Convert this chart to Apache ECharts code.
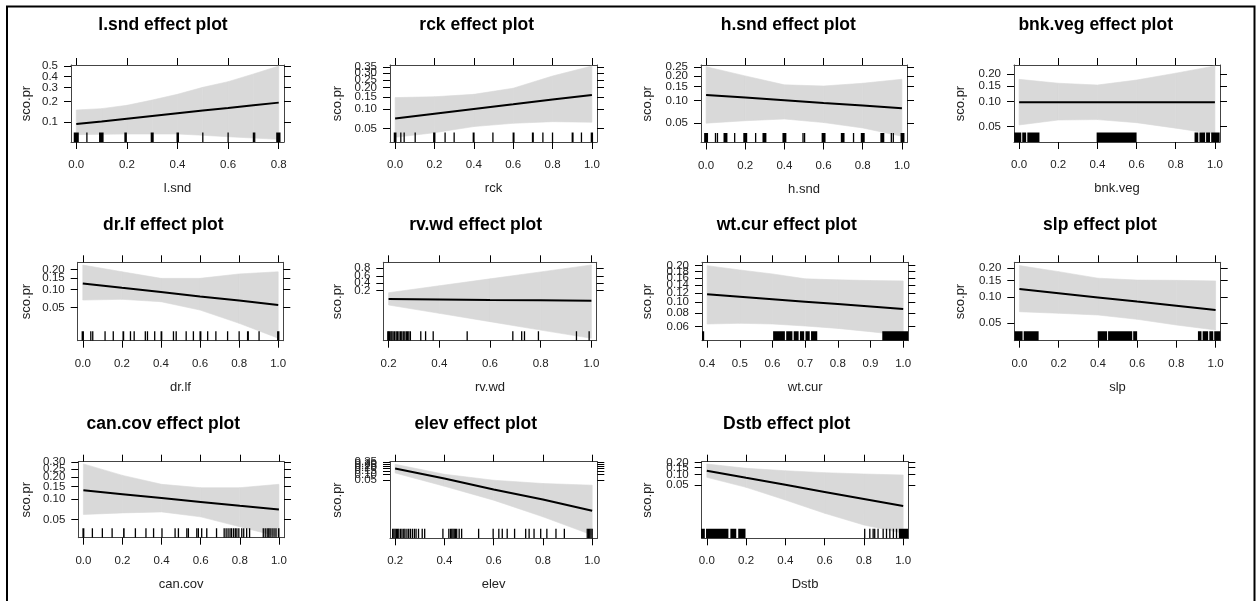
<!DOCTYPE html>
<html><head><meta charset="utf-8">
<script src="https://cdn.jsdelivr.net/npm/echarts@6/dist/echarts.min.js"></script>
<style>html,body{margin:0;padding:0;background:#fff}#c{width:1257px;height:601px}</style>
</head><body><div id="c"></div>
<script>
// ---------------- DATA (probabilities) ----------------
const xt08 = ['0.0','0.2','0.4','0.6','0.8'];
const xt01 = ['0.0','0.2','0.4','0.6','0.8','1.0'];
const xt21 = ['0.2','0.4','0.6','0.8','1.0'];
const xt41 = ['0.4','0.5','0.6','0.7','0.8','0.9','1.0'];

const x01 = [0, 0.2, 0.4, 0.6, 0.8, 1.0];
const x21 = [0.2, 0.4, 0.6, 0.8, 1.0];

// l.snd
const lsnd_x   = [0, 0.1, 0.2, 0.3, 0.4, 0.5, 0.6, 0.7, 0.8];
const lsnd_fit = [0.093, 0.102, 0.112, 0.123, 0.135, 0.148, 0.161, 0.176, 0.192];
const lsnd_lo  = [0.0633, 0.0642, 0.0649, 0.0649, 0.0649, 0.0619, 0.0587, 0.0559, 0.0533];
const lsnd_hi  = [0.151, 0.158, 0.176, 0.208, 0.248, 0.302, 0.351, 0.422, 0.50];
const lsnd_yt  = ['0.1','0.2','0.3','0.4','0.5'];
const lsnd_rug = [[-0.01,0.01],0.042,[0.09,0.108],[0.19,0.2],[0.294,0.306],[0.396,0.406],0.5,0.6,0.7,0.705,[0.79,0.807]];

// rck
const rck_fit = [0.072, 0.085, 0.100, 0.117, 0.137, 0.159];
const rck_lo  = [0.0366, 0.0433, 0.054, 0.0607, 0.0643, 0.063];
const rck_hi  = [0.146, 0.150, 0.162, 0.196, 0.279, 0.361];
const rck_yt  = ['0.05','0.10','0.15','0.20','0.25','0.30','0.35'];
const rck_rug = [[-0.007,0.007],0.029,0.046,0.102,[0.193,0.205],0.254,0.3,[0.394,0.404],0.497,[0.597,0.607],[0.695,0.705],0.751,0.8,[0.897,0.907],0.947,[0.994,1.006]];

// h.snd
const hsnd_fit = [0.118, 0.109, 0.101, 0.093, 0.086, 0.079];
const hsnd_lo  = [0.050, 0.054, 0.057, 0.051, 0.043, 0.033];
const hsnd_hi  = [0.253, 0.200, 0.157, 0.152, 0.164, 0.183];
const hsnd_yt  = ['0.05','0.10','0.15','0.20','0.25'];
const hsnd_rug = [[-0.01,0.01],0.048,0.058,[0.089,0.109],0.146,[0.19,0.21],0.253,[0.288,0.308],[0.39,0.41],0.495,0.503,[0.59,0.61],[0.688,0.707],0.753,[0.79,0.81],[0.89,0.91],0.946,0.956,[0.993,1.013]];

// bnk.veg
const bnk_fit = [0.098, 0.098, 0.098, 0.098, 0.098, 0.098];
const bnk_lo  = [0.0525, 0.0603, 0.061, 0.056, 0.048, 0.0407];
const bnk_hi  = [0.176, 0.160, 0.153, 0.173, 0.204, 0.241];
const bnk_yt  = ['0.05','0.10','0.15','0.20'];
const bnk_rug = [[-0.025,0.011],[0.016,0.036],[0.042,0.104],[0.396,0.6],[0.896,0.915],[0.921,0.95],[0.955,0.975],[0.981,1.024]];

// dr.lf
const drlf_fit = [0.124, 0.106, 0.091, 0.077, 0.066, 0.0555];
const drlf_lo  = [0.067, 0.069, 0.063, 0.0457, 0.0272, 0.0150];
const drlf_hi  = [0.230, 0.185, 0.148, 0.148, 0.172, 0.185];
const drlf_yt  = ['0.05','0.10','0.15','0.20'];
const drlf_rug = [[-0.006,0.006],0.041,0.051,0.114,0.156,[0.203,0.212],0.244,0.263,0.32,0.331,0.368,[0.398,0.407],0.464,0.478,0.529,0.566,[0.597,0.607],0.639,0.681,0.741,0.8,[0.84,0.85],0.902,[0.994,1.006]];

// rv.wd
const rvwd_fit = [0.082, 0.078, 0.074, 0.071, 0.068];
const rvwd_lo  = [0.0409, 0.0150, 0.0054, 0.0019, 0.00069];
const rvwd_hi  = [0.163, 0.315, 0.520, 0.719, 0.858];
const rvwd_yt  = ['0.2','0.4','0.6','0.8'];
const rvwd_rug = [0.197,0.2,0.204,0.209,0.213,0.218,0.224,0.23,0.235,0.241,0.247,0.252,0.258,0.264,0.27,0.275,0.28,0.286,0.327,0.346,0.376,0.51,0.69,0.725,0.736,0.791,0.941,0.991];

// wt.cur
const wtcur_x   = [0.4, 0.5, 0.6, 0.7, 0.8, 0.9, 1.0];
const wtcur_fit = [0.1164, 0.1109, 0.1056, 0.1005, 0.0957, 0.0911, 0.0866];
const wtcur_lo  = [0.0635, 0.0644, 0.0635, 0.0609, 0.0579, 0.054, 0.050];
const wtcur_hi  = [0.200, 0.185, 0.172, 0.157, 0.154, 0.152, 0.151];
const wtcur_yt  = ['0.06','0.08','0.10','0.12','0.14','0.16','0.18','0.20'];
const wtcur_rug = [[0.383,0.391],[0.602,0.638],[0.642,0.661],[0.665,0.68],[0.684,0.697],[0.701,0.714],[0.718,0.737],[0.936,1.015]];

// slp
const slp_fit = [0.1215, 0.1095, 0.0985, 0.0884, 0.0793, 0.0711];
const slp_lo  = [0.068, 0.0653, 0.0624, 0.0557, 0.0478, 0.0418];
const slp_hi  = [0.211, 0.184, 0.158, 0.151, 0.150, 0.148];
const slp_yt  = ['0.05','0.10','0.15','0.20'];
const slp_rug = [[-0.025,0.016],[0.022,0.098],[0.399,0.447],[0.452,0.575],[0.58,0.6],[0.91,0.928],[0.934,0.962],[0.968,0.988],[0.993,1.024]];

// can.cov
const cancov_fit = [0.1325, 0.117, 0.1035, 0.091, 0.080, 0.0704];
const cancov_lo  = [0.0594, 0.0627, 0.0649, 0.0547, 0.0387, 0.0272];
const cancov_hi  = [0.287, 0.209, 0.160, 0.144, 0.144, 0.160];
const cancov_yt  = ['0.05','0.10','0.15','0.20','0.25','0.30'];
const cancov_rug = [[-0.005,0.005],0.046,0.097,0.147,[0.203,0.211],0.266,0.32,0.359,0.402,0.469,0.486,0.529,0.537,0.58,0.588,0.605,0.631,0.681,0.72,0.73,0.74,0.75,0.758,0.768,0.777,0.785,0.795,0.81,0.82,0.835,0.85,0.92,0.93,0.94,0.948,0.955,0.965,0.975,0.985,[0.995,1.003]];

// elev
const elev_fit = [0.189, 0.0613, 0.0159, 0.00451, 0.00106];
const elev_lo  = [0.1175, 0.0240, 0.00412, 0.000497, 0.0000487];
const elev_hi  = [0.287, 0.1014, 0.050, 0.0335, 0.0272];
const elev_yt  = ['0.05','0.10','0.15','0.20','0.25','0.30','0.35'];
const elev_rug = [0.19,0.195,0.2,0.205,0.21,0.215,0.222,0.228,0.235,0.24,0.248,0.255,0.262,0.27,0.278,0.285,0.295,0.31,0.32,0.394,0.418,0.425,0.43,0.435,0.44,0.445,0.45,0.46,0.47,0.539,0.598,0.621,0.635,0.655,0.685,0.73,0.744,0.764,0.791,0.816,0.853,0.887,0.98,0.985,0.99,0.995,1.0];

// Dstb
const dstb_fit = [0.1252, 0.080, 0.0506, 0.0315, 0.0195, 0.0120];
const dstb_lo  = [0.0827, 0.0429, 0.0181, 0.00724, 0.0032, 0.0018];
const dstb_hi  = [0.186, 0.145, 0.125, 0.111, 0.102, 0.0958];
const dstb_yt  = ['0.05','0.10','0.15','0.20'];
const dstb_rug = [[-0.03,-0.01],[-0.004,0.11],[0.12,0.15],[0.16,0.197],0.804,0.83,0.847,0.855,0.872,0.898,0.915,0.932,0.95,0.966,[0.978,1.025]];

const panels = [
  {name:'l.snd',   x:lsnd_x,  fit:lsnd_fit,  lo:lsnd_lo,  hi:lsnd_hi,  yt:lsnd_yt,  xt:xt08, rug:lsnd_rug},
  {name:'rck',     x:x01,     fit:rck_fit,   lo:rck_lo,   hi:rck_hi,   yt:rck_yt,   xt:xt01, rug:rck_rug},
  {name:'h.snd',   x:x01,     fit:hsnd_fit,  lo:hsnd_lo,  hi:hsnd_hi,  yt:hsnd_yt,  xt:xt01, rug:hsnd_rug},
  {name:'bnk.veg', x:x01,     fit:bnk_fit,   lo:bnk_lo,   hi:bnk_hi,   yt:bnk_yt,   xt:xt01, rug:bnk_rug},
  {name:'dr.lf',   x:x01,     fit:drlf_fit,  lo:drlf_lo,  hi:drlf_hi,  yt:drlf_yt,  xt:xt01, rug:drlf_rug},
  {name:'rv.wd',   x:x21,     fit:rvwd_fit,  lo:rvwd_lo,  hi:rvwd_hi,  yt:rvwd_yt,  xt:xt21, rug:rvwd_rug},
  {name:'wt.cur',  x:wtcur_x, fit:wtcur_fit, lo:wtcur_lo, hi:wtcur_hi, yt:wtcur_yt, xt:xt41, rug:wtcur_rug},
  {name:'slp',     x:x01,     fit:slp_fit,   lo:slp_lo,   hi:slp_hi,   yt:slp_yt,   xt:xt01, rug:slp_rug},
  {name:'can.cov', x:x01,     fit:cancov_fit,lo:cancov_lo,hi:cancov_hi,yt:cancov_yt,xt:xt01, rug:cancov_rug},
  {name:'elev',    x:x21,     fit:elev_fit,  lo:elev_lo,  hi:elev_hi,  yt:elev_yt,  xt:xt21, rug:elev_rug},
  {name:'Dstb',    x:x01,     fit:dstb_fit,  lo:dstb_lo,  hi:dstb_hi,  yt:dstb_yt,  xt:xt01, rug:dstb_rug}
];

// ---------------- LAYOUT (pixels; y range on the logit scale) ----------------
const layout = [
  {box:[71,65,284,142],          yr:[-2.982,0.039],  title:[163,23],     col:0},
  {box:[390,65,597,142],         yr:[-3.448,-0.532], title:[476.7,23],   col:1},
  {box:[701,65,907,142.5],       yr:[-3.582,-1.026], title:[788.3,23],   col:2},
  {box:[1014,65,1220,142],       yr:[-3.397,-1.119], title:[1095.7,23],  col:3},
  {box:[77.7,262.3,283.3,340.7], yr:[-4.285,-1.098], title:[163.3,223],  col:0},
  {box:[383.3,262.3,596.7,340.7],yr:[-7.574,2.129],  title:[475.7,223],  col:1},
  {box:[702,262.3,908.3,340.7],  yr:[-3.065,-1.311], title:[786.7,223],  col:2},
  {box:[1014.3,262.3,1220.7,340.7],yr:[-3.434,-1.226],title:[1100,223],  col:3},
  {box:[78.3,461.7,284,537.7],   yr:[-3.613,-0.83],  title:[163.3,421.7],col:0},
  {box:[390,461.7,597.3,538.3],  yr:[-10.35,-0.58],  title:[475.7,421.7],col:1},
  {box:[701.7,461.7,908.3,538.3],yr:[-6.671,-1.314], title:[786.7,421.7],col:2}
];
const yNameX = [26.5, 337, 647.5, 960];

const logit = p => Math.log(p / (1 - p));
const FONT = 'Liberation Sans, Arial, sans-serif';
const TXT = '#222';
const BAND = '#d9d9d9';

const option = {
  animation: false,
  textStyle: {fontFamily: FONT},
  title: [], grid: [], xAxis: [], yAxis: [], series: [],
  graphic: [{type:'rect', silent:true, z:100,
    shape:{x:7, y:6.5, width:1247.5, height:640},
    style:{fill:'none', stroke:'#000', lineWidth:2}}]
};

function lookup(vals, labels) {
  return v => { const k = vals.findIndex(t => Math.abs(t - v) < 1e-6); return k >= 0 ? labels[k] : ''; };
}

panels.forEach((P, i) => {
  const L = layout[i];
  const [l, t, r, b] = L.box;
  option.grid.push({left:l, top:t, width:r - l, height:b - t});
  const x0 = P.x[0], x1 = P.x[P.x.length - 1], pad = 0.026 * (x1 - x0);
  const xmin = x0 - pad, xmax = x1 + pad;
  const xtv = P.xt.map(Number);
  const ytv = P.yt.map(s => logit(Number(s)));
  const ymin = L.yr[0], ymax = L.yr[1];
  const line = {show:true, onZero:false, lineStyle:{color:'#444', width:1}};
  const tickX = {show:true, inside:false, length:7, customValues:xtv, lineStyle:{color:'#000'}};
  const tickY = {show:true, inside:false, length:7, customValues:ytv, lineStyle:{color:'#000'}};

  option.title.push({text:P.name + ' effect plot', left:L.title[0], top:L.title[1] - 7,
    textAlign:'center', padding:0,
    textStyle:{fontSize:17.5, fontWeight:'bold', color:'#000', fontFamily:FONT}});

  option.xAxis.push({type:'value', gridIndex:i, position:'bottom', min:xmin, max:xmax,
    axisLine:line, axisTick:tickX, splitLine:{show:false},
    axisLabel:{customValues:xtv, formatter:lookup(xtv, P.xt), margin:17, fontSize:11.5, color:TXT,
      showMinLabel:true, showMaxLabel:true},
    name:P.name, nameLocation:'middle', nameGap:40, nameTextStyle:{fontSize:13, color:TXT}});
  option.xAxis.push({type:'value', gridIndex:i, position:'top', min:xmin, max:xmax,
    axisLine:line, axisTick:tickX, splitLine:{show:false}, axisLabel:{show:false}});

  const nameGap = l - yNameX[L.col] - 6.5;
  option.yAxis.push({type:'value', gridIndex:i, position:'left', min:ymin, max:ymax,
    axisLine:line, axisTick:tickY, splitLine:{show:false}, axisLabel:{show:false},
    name:'sco.pr', nameLocation:'middle', nameGap:nameGap, nameMoveOverlap:false,
    nameTextStyle:{fontSize:13, color:TXT}});
  option.yAxis.push({type:'value', gridIndex:i, position:'right', min:ymin, max:ymax,
    axisLine:line, axisTick:tickY, splitLine:{show:false}, axisLabel:{show:false}});

  const xi = 2 * i, yi = 2 * i;
  // confidence band: one quadrilateral per interval between neighbouring x values
  const bandData = P.x.map((x, k) => [x, logit(P.lo[k]), logit(P.hi[k])]);
  option.series.push({type:'custom', xAxisIndex:xi, yAxisIndex:yi, silent:true, clip:true, z:1,
    encode:{x:0, y:[1, 2]},
    data:bandData,
    renderItem:(params, api) => {
      const k = params.dataIndex;
      if (k >= bandData.length - 1) return null;
      const a = bandData[k], c = bandData[k + 1];
      const pts = [api.coord([a[0], a[1]]), api.coord([c[0], c[1]]),
                   api.coord([c[0], c[2]]), api.coord([a[0], a[2]])];
      return {type:'polygon', shape:{points:pts},
        style:{fill:BAND, stroke:BAND, lineWidth:0.6}};
    }});
  // rug
  option.series.push({type:'custom', xAxisIndex:xi, yAxisIndex:yi, silent:true, clip:true, z:3,
    encode:{x:[0, 1]},
    data:P.rug.map(v => Array.isArray(v) ? v : [v, v]),
    renderItem:(params, api) => {
      const p0 = api.coord([api.value(0), ymin]);
      const p1 = api.coord([api.value(1), ymin]);
      let x = p0[0], w = p1[0] - p0[0];
      if (w < 1.3) { x -= 0.65; w = 1.3; }
      return {type:'rect', shape:{x:x, y:p0[1] - 9.5, width:w, height:9.5}, style:{fill:'#000'}};
    }});
  // fitted effect
  option.series.push({type:'line', xAxisIndex:xi, yAxisIndex:yi, symbol:'none', silent:true, z:5,
    lineStyle:{color:'#000', width:2},
    data:P.x.map((x, k) => [x, logit(P.fit[k])])});
  // y tick labels (lattice draws all of them, even where they overlap)
  option.series.push({type:'custom', xAxisIndex:xi, yAxisIndex:yi, silent:true, clip:false, z:6,
    encode:{x:0, y:1},
    data:ytv.map(v => [xmin, v]),
    renderItem:(params, api) => {
      const p = api.coord([api.value(0), api.value(1)]);
      return {type:'text', x:p[0] - 13, y:p[1],
        style:{text:P.yt[params.dataIndex], align:'right', verticalAlign:'middle',
          fontSize:11.5, fontFamily:FONT, fill:TXT}};
    }});
});

const chart = echarts.init(document.getElementById('c'), null, {renderer:'canvas'});
chart.setOption(option);
</script>
</body></html>
